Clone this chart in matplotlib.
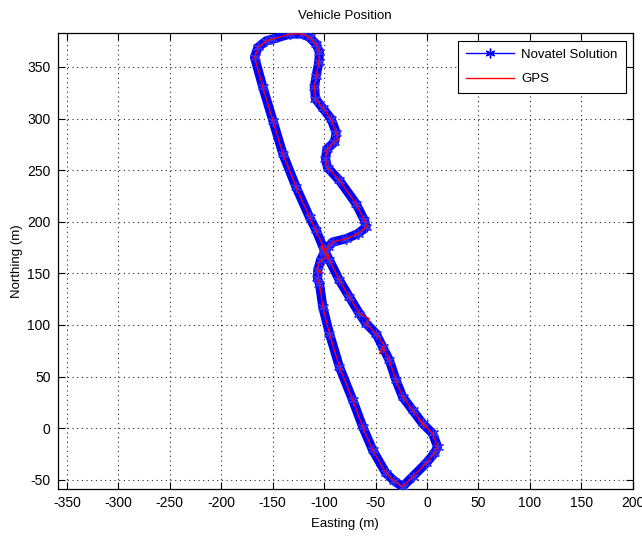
import matplotlib
matplotlib.use("Agg")
import matplotlib.pyplot as plt
from matplotlib.lines import Line2D

# Novatel solution path (Easting, Northing in m)
nov_e = [-99.7, -107.7, -114.2, -127.1, -140.1, -149.8, -159.5, -167.6, -164.4, -156.2,
         -149.8, -133.6, -120.7, -114.2, -107.7, -104.5, -105.2, -107.7, -109.4, -108.4,
         -101.3, -93.2, -88.3, -90.0, -97.2, -98.7, -96.7, -85.1, -68.9, -60.8,
         -59.2, -67.3, -78.6, -91.6, -96.5, -99.7, -103.5, -106.2, -106.5, -104.5,
         -101.3, -94.8, -85.1, -72.2, -62.5, -52.8, -39.8, -31.7, -23.7, -14.0,
         -1.0, 7.1, 10.3, 5.4, -4.3, -14.0, -23.7, -30.1, -36.6, -43.1,
         -49.5, -59.2, -65.7, -75.4, -85.1, -94.8, -99.7]
nov_n = [172.2, 191.6, 204.5, 233.2, 265.8, 298.0, 330.2, 359.3, 368.9, 375.4,
         377.1, 381.9, 381.9, 378.6, 372.2, 364.1, 354.4, 341.6, 330.9, 319.0,
         310.1, 299.7, 286.4, 277.0, 270.6, 261.0, 252.5, 240.0, 217.4, 201.3,
         194.8, 188.4, 183.6, 180.3, 175.4, 170.6, 162.6, 152.9, 145.1, 140.0,
         117.4, 91.6, 59.3, 27.1, 1.3, -21.3, -43.8, -51.3, -56.8, -47.1,
         -34.2, -24.5, -18.1, -5.1, 4.5, 17.4, 30.3, 46.4, 65.8, 78.7,
         91.6, 101.3, 111.0, 127.0, 143.2, 162.6, 172.2]

# GPS path (Easting, Northing in m) with its noise spikes
gps_e = [-99.7, -103.0, -97.5, -107.7, -114.2, -127.1, -140.1, -149.8, -159.5, -167.6,
         -165.5, -164.4, -156.2, -149.8, -133.6, -120.7, -114.2, -107.7, -104.5, -105.2,
         -107.7, -109.4, -108.4, -101.3, -93.2, -88.3, -86.1, -90.0, -97.2, -98.7,
         -96.7, -85.1, -68.9, -60.8, -57.6, -59.2, -67.3, -78.6, -91.6, -96.5,
         -99.7, -95.5, -103.5, -107.1, -102.5, -106.2, -106.5, -104.5, -101.3, -94.8,
         -85.1, -72.2, -62.5, -52.8, -39.8, -31.7, -23.7, -14.0, -1.0, 7.1,
         10.3, 5.4, -4.3, -7.5, -2.0, -14.0, -23.7, -30.1, -36.6, -43.1,
         -46.0, -41.5, -49.5, -59.2, -56.0, -65.7, -75.4, -85.1, -94.8, -99.7]
gps_n = [172.2, 176.5, 168.0, 191.6, 204.5, 233.2, 265.8, 298.0, 330.2, 359.3,
         364.0, 368.9, 375.4, 377.1, 381.9, 381.9, 378.6, 372.2, 364.1, 354.4,
         341.6, 330.9, 319.0, 310.1, 299.7, 286.4, 280.3, 277.0, 270.6, 261.0,
         252.5, 240.0, 217.4, 201.3, 194.2, 194.8, 188.4, 183.6, 180.3, 175.4,
         170.6, 167.0, 162.6, 154.5, 150.0, 152.9, 145.1, 140.0, 117.4, 91.6,
         59.3, 27.1, 1.3, -21.3, -43.8, -51.3, -56.8, -47.1, -34.2, -24.5,
         -18.1, -5.1, 4.5, 9.0, 1.0, 17.4, 30.3, 46.4, 65.8, 78.7,
         72.0, 80.0, 91.6, 101.3, 106.0, 111.0, 127.0, 143.2, 162.6, 172.2]

x_ticks = [-350, -300, -250, -200, -150, -100, -50, 0, 50, 100, 150, 200]
y_ticks = [-50, 0, 50, 100, 150, 200, 250, 300, 350]

plt.rcParams['font.family'] = ['Liberation Sans', 'DejaVu Sans']
plt.rcParams['axes.unicode_minus'] = False

fig = plt.figure(figsize=(6.42, 5.38), dpi=100)
ax = fig.add_axes([0.0896, 0.0911, 0.8959, 0.8481])

ax.plot(nov_e, nov_n, color='#0000ff', lw=6.6, marker=(6, 2, 0), ms=8,
        mec='#3030ff', mew=1.0, solid_joinstyle='round', solid_capstyle='round', zorder=3)
ax.plot(gps_e, gps_n, color='#ff0000', lw=0.9, zorder=4)

ax.set_xlim(-359.2, 199.0)
ax.set_ylim(-59.0, 383.2)
ax.set_xticks(x_ticks)
ax.set_yticks(y_ticks)
ax.grid(True, color='0.15', linestyle=(0, (1, 3.2)), linewidth=0.8)
ax.set_axisbelow(True)
ax.tick_params(direction='in', length=5, width=0.8, top=True, right=True,
               labelsize=10, pad=5)
for s in ax.spines.values():
    s.set_linewidth(0.9)

ax.set_title('Vehicle Position', fontsize=9.5, pad=10)
ax.set_xlabel('Easting (m)', fontsize=9.5, labelpad=6)
ax.set_ylabel('Northing (m)', fontsize=9.5, labelpad=3)

h1 = Line2D([], [], color='#0000ff', lw=1.0, marker=(6, 2, 0), ms=7, mew=1.0)
h2 = Line2D([], [], color='#ff0000', lw=1.0)
leg = ax.legend([h1, h2], ['Novatel Solution', 'GPS'], loc='upper right',
                fontsize=9.5, fancybox=False, framealpha=1, edgecolor='black',
                borderpad=0.6, handlelength=3.6, handletextpad=0.6, labelspacing=0.9,
                borderaxespad=0, bbox_to_anchor=(0.988, 0.982))
leg.get_frame().set_linewidth(0.8)

fig.savefig('out.png', dpi=100)
